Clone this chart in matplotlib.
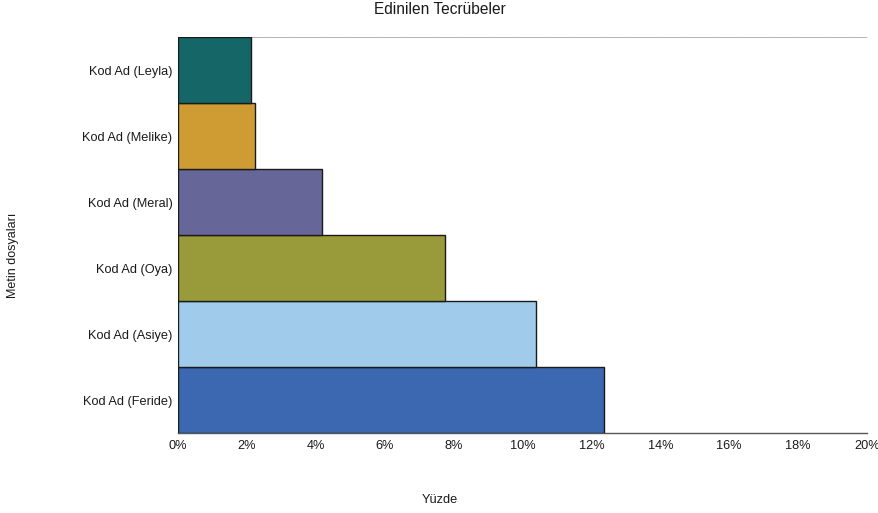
import matplotlib
matplotlib.use("Agg")
import matplotlib.pyplot as plt
from matplotlib.ticker import FuncFormatter

plt.rcParams['font.family'] = ['Liberation Sans', 'DejaVu Sans']

# Percentage of coded segments per text file (bottom to top)
categories = ["Kod Ad (Feride)", "Kod Ad (Asiye)", "Kod Ad (Oya)",
              "Kod Ad (Meral)", "Kod Ad (Melike)", "Kod Ad (Leyla)"]
values = [12.36, 10.40, 7.76, 4.18, 2.24, 2.13]
colors = ["#3c67b1", "#a0cbeb", "#999a3a", "#676699", "#cf9c33", "#146766"]
x_ticks = [0, 2, 4, 6, 8, 10, 12, 14, 16, 18, 20]

fig = plt.figure(figsize=(8.79, 5.13), dpi=100)
ax = fig.add_axes([178 / 879, 1 - 433 / 513, (867 - 178) / 879, (433 - 37.3) / 513])

ax.barh(range(len(categories)), values, height=1.0, color=colors,
        edgecolor="#1a1a1a", linewidth=1.0, zorder=3)

ax.set_xlim(0, 20)
ax.set_ylim(-0.5, len(categories) - 0.5)
ax.set_yticks(range(len(categories)))
ax.set_yticklabels(categories, fontsize=9.2, color="#1a1a1a")
ax.set_xticks(x_ticks)
ax.xaxis.set_major_formatter(FuncFormatter(lambda v, p: f"{v:.0f}%"))
ax.tick_params(axis="x", length=0, labelsize=9.2, labelcolor="#1a1a1a", pad=5)
ax.tick_params(axis="y", length=0, pad=4)

for side in ("left", "right"):
    ax.spines[side].set_visible(False)
ax.spines["bottom"].set_color("#555555")
ax.spines["bottom"].set_linewidth(1.0)
ax.spines["top"].set_color("#b5b5b5")
ax.spines["top"].set_linewidth(0.7)
ax.spines["top"].set_linestyle((0, (0.8, 0.8)))

fig.text(0.5, 1 - 10 / 513, "Edinilen Tecrübeler", ha="center", va="center",
         fontsize=11.2, color="#1a1a1a")
fig.text(0.5, 1 - 500 / 513, "Yüzde", ha="center", va="center",
         fontsize=9.2, color="#1a1a1a")
fig.text(13 / 879, 1 - 255 / 513, "Metin dosyaları", ha="center", va="center",
         rotation=90, fontsize=9, color="#1a1a1a")

fig.savefig("out.png", dpi=100)
